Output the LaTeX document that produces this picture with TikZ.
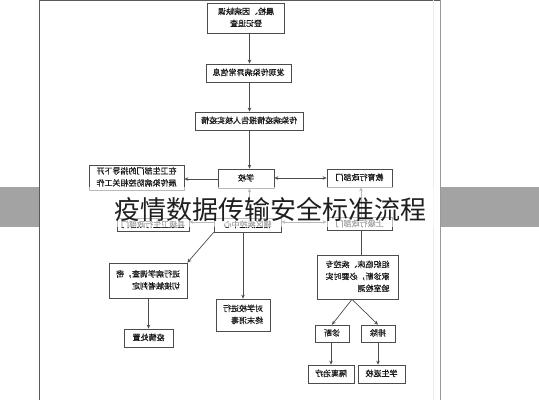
\documentclass[tikz,border=0pt]{standalone}
\usepackage{fontspec}
\usepackage{graphicx}
\newfontfamily\cjk{Noto Sans CJK SC}
\newfontfamily\cjkb[FakeBold=0.6]{Noto Sans CJK SC}
\usetikzlibrary{arrows.meta,calc}
\newcommand{\mir}[2][c]{\reflectbox{\begin{tabular}{@{}#1@{}}#2\end{tabular}}}
\begin{document}
\begin{tikzpicture}[x=1pt,y=-1pt,
  box/.style={draw=black!70, line width=0.7pt, fill=white, inner sep=0pt,
    font=\cjkb\fontsize{8}{12}\selectfont, text=black!90},
  conn/.style={draw=black!70, line width=0.7pt},
  arr/.style={conn, -{Stealth[length=4pt,width=3.5pt]}},
  darr/.style={conn, {Stealth[length=4pt,width=3.5pt]}-{Stealth[length=4pt,width=3.5pt]}}]
\useasboundingbox (0,0) rectangle (539,400);
\fill[white] (0,0) rectangle (539,400);
% page edges
\draw[black!65, line width=1pt] (39.5,0) -- (39.5,400);
\draw[black!65, line width=1pt] (39.5,0.5) -- (440,0.5);
\draw[black!40, line width=0.8pt] (440,0) -- (440,400);
\draw[black!8, line width=0.6pt] (433,0) -- (433,400);

% boxes
\node[box, minimum width=77pt, minimum height=30pt] (A) at (246,18) {\mir{晨检、因病缺课\\登记追查}};
\node[box, minimum width=85pt, minimum height=18pt] (B) at (248.5,73) {\mir{发现传染病异常信息}};
\node[box, minimum width=108pt, minimum height=18pt] (C) at (249,121) {\mir{传染病疫情报告人核实疫情}};
\node[box, minimum width=56pt, minimum height=19pt] (S) at (246,178.5) {\mir{学校}};
\node[box, minimum width=95pt, minimum height=25pt] (LT) at (136.5,177.5) {\mir[l]{在卫生部门的指导下开\\展传染病防控相关工作}};
\node[box, minimum width=65pt, minimum height=18pt] (RT) at (359.5,178) {\mir{教育行政部门}};
\node[box, minimum width=72pt, minimum height=13pt] (LL) at (153,225) {\mir{县级卫生行政部门}};
\node[box, minimum width=67pt, minimum height=14pt] (ML) at (247.5,225) {\mir{辖区疾控中心}};
\node[box, minimum width=65pt, minimum height=13pt] (RL) at (359.5,224) {\mir{上级行政部门}};
\node[box, minimum width=78pt, minimum height=35pt] (INV) at (148,280.5) {\mir[l]{进行病学调查，密\\切接触者判定}};
\node[box, minimum width=49pt, minimum height=18pt] (HD) at (148.5,338) {\mir{疫情处置}};
\node[box, minimum width=54pt, minimum height=32pt] (DS) at (243,315) {\mir[l]{对学校进行\\终末消毒}};
\node[box, minimum width=81pt, minimum height=44pt] (BB) at (357.5,277) {\mir[l]{组织临床、疾控专\\家诊断，必要时实\\验室检测}};
\node[box, minimum width=34pt, minimum height=17pt] (DG) at (332,333.5) {\mir{诊断}};
\node[box, minimum width=34pt, minimum height=17pt] (EX) at (378,333.5) {\mir{排除}};
\node[box, minimum width=46pt, minimum height=18pt] (IS) at (331,374) {\mir{隔离治疗}};
\node[box, minimum width=47pt, minimum height=18pt] (RS) at (381.5,374) {\mir{学生返校}};

% connectors
\coordinate (ax) at (249.5,0);
\coordinate (rx) at (361,0);
\coordinate (bx) at (352,0);
\coordinate (ex) at (378,0);
\coordinate (yl) at (0,179);
\coordinate (yr) at (0,178);
\coordinate (yb) at (0,222);
\draw[arr] (A.south -| ax) -- (B.north -| ax);
\draw[arr] (B.south -| ax) -- (C.north -| ax);
\draw[arr] (C.south -| ax) -- (S.north -| ax);
\draw[arr] (S.west |- yl) -- (LT.east |- yl);
\draw[darr] (S.east |- yr) -- (RT.west |- yr);
\draw[arr] (ML.north -| ax) -- (S.south -| ax);
\draw[arr] (RL.north -| rx) -- (RT.south -| rx);
\draw[arr] (ML.west |- yb) -- (LL.east |- yb);
\draw[darr] (ML.east |- yb) -- (RL.west |- yb);
\draw[arr] (ML.south west) -- (INV.north east);
\draw[arr] (ML.south -| DS.north) -- (DS.north);
\draw[arr] (INV.south -| HD.north) -- (HD.north);
\draw[conn] (RL.south -| rx) -- (BB.north -| rx);
\draw[arr] (BB.south -| bx) -- (DG.north);
\draw[arr] (BB.south -| bx) -- (EX.north);
\draw[arr] (DG.south -| IS.north) -- (IS.north);
\draw[arr] (EX.south -| ex) -- (RS.north -| ex);

% title band
\fill[white, opacity=0.62] (40,187) rectangle (440,227);
\fill[black!36] (0,187) rectangle (39,227);
\fill[black!36] (440.5,187) rectangle (539,227);
\node[text=black!88, inner sep=0pt, font=\cjk\fontsize{26}{26}\selectfont] (title) at (270.5,209.5) {疫情数据传输安全标准流程};
\end{tikzpicture}
\end{document}
